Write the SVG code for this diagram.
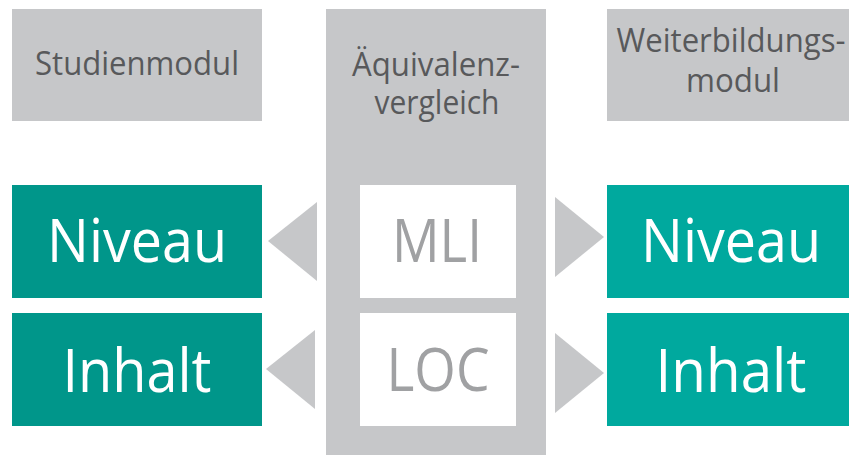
<svg xmlns="http://www.w3.org/2000/svg" width="852" height="455" viewBox="0 0 852 455">
<style>
.gray{fill:#c6c7c9}
.gl{fill:#00968a}
.gr{fill:#00a99e}
.white{fill:#ffffff}
.hd{font-family:"Open Sans","Noto Sans","Liberation Sans",sans-serif;font-size:33px;fill:#58595b;text-anchor:middle}
.big{font-family:"Open Sans","Noto Sans","Liberation Sans",sans-serif;font-size:61px;fill:#ffffff;text-anchor:middle}
.mid{font-family:"Open Sans","Noto Sans","Liberation Sans",sans-serif;font-size:60px;fill:#a0a1a3;text-anchor:middle}
.arr{fill:#c6c7c9}
</style>
<rect width="852" height="455" fill="#ffffff"/>
<g id="studienmodul">
<rect class="gray" x="12" y="9" width="250" height="112"/>
<text class="hd" x="137" y="75" textLength="204" lengthAdjust="spacingAndGlyphs">Studienmodul</text>
</g>
<g id="aequivalenzvergleich">
<rect class="gray" x="326" y="9" width="220" height="446"/>
<text class="hd" x="436" y="76" textLength="168" lengthAdjust="spacingAndGlyphs">Äquivalenz-</text>
<text class="hd" x="437" y="114" textLength="125" lengthAdjust="spacingAndGlyphs">vergleich</text>
</g>
<g id="weiterbildungsmodul">
<rect class="gray" x="607" y="9" width="242" height="112"/>
<text class="hd" x="731" y="52" textLength="229" lengthAdjust="spacingAndGlyphs">Weiterbildungs-</text>
<text class="hd" x="733" y="92" textLength="94" lengthAdjust="spacingAndGlyphs">modul</text>
</g>
<g id="mli">
<rect class="white" x="360" y="185" width="156" height="113"/>
<text class="mid" x="437" y="262" textLength="90" lengthAdjust="spacingAndGlyphs">MLI</text>
</g>
<g id="loc">
<rect class="white" x="360" y="313" width="156" height="113"/>
<text class="mid" x="438" y="391" textLength="103" lengthAdjust="spacingAndGlyphs">LOC</text>
</g>
<g id="niveau-links">
<rect class="gl" x="12" y="185" width="250" height="113"/>
<text class="big" x="137" y="262" textLength="180" lengthAdjust="spacingAndGlyphs">Niveau</text>
</g>
<g id="inhalt-links">
<rect class="gl" x="12" y="313" width="250" height="113"/>
<text class="big" x="137" y="392" textLength="149" lengthAdjust="spacingAndGlyphs">Inhalt</text>
</g>
<g id="niveau-rechts">
<rect class="gr" x="607" y="185" width="242" height="113"/>
<text class="big" x="731" y="262" textLength="180" lengthAdjust="spacingAndGlyphs">Niveau</text>
</g>
<g id="inhalt-rechts">
<rect class="gr" x="607" y="313" width="242" height="113"/>
<text class="big" x="731" y="392" textLength="151" lengthAdjust="spacingAndGlyphs">Inhalt</text>
</g>
<g id="connectors">
<polygon class="arr" points="268,241 317,202 317,281"/>
<polygon class="arr" points="266,369 315,330 315,409"/>
<polygon class="arr" points="555,197 604,237 555,277"/>
<polygon class="arr" points="555,333 604,373 555,413"/>
</g>
</svg>
